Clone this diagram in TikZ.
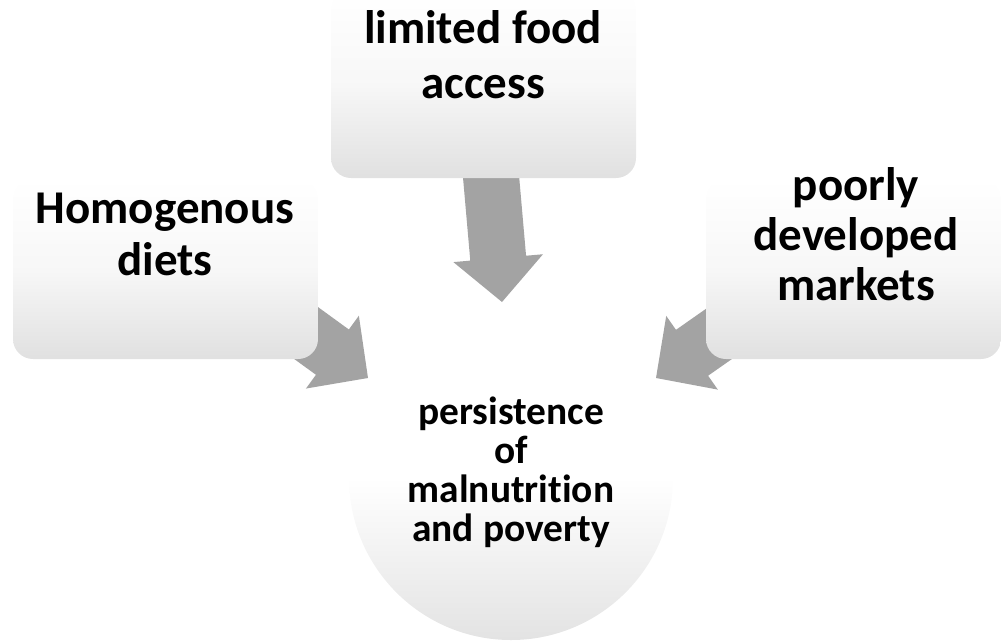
\documentclass[tikz,border=0pt]{standalone}
\usepackage{fontspec}
\setmainfont{Carlito}[Ligatures=NoCommon]
\usetikzlibrary{math}

\tikzset{
	boxshade/.style={rectangle, rounded corners=10pt, inner sep=0pt,
		top color=white, bottom color=black!12, middle color=black!3},
	arrowfill/.style={fill=black!36},
	bigtext/.style={align=center, inner sep=0pt,
		font=\fontsize{23.5}{26}\selectfont\bfseries},
}

\begin{document}
\begin{tikzpicture}[x=0.5pt,y=-0.5pt]
\useasboundingbox (0,0) rectangle (1001,643);
\tikzmath{
	\shaftw = 28;\headw = 45;\headl = 44;\arrlen = 140;
	{\coordinate (tipt) at (502,302);};
	{\coordinate (tipl) at (368,378);};
	{\coordinate (tipr) at (656,378);};
};
% centre circle
\node[circle, minimum size=162pt, inner sep=0pt,
	top color=white, bottom color=black!11, middle color=white] (goal) at (511,478) {};
% arrows
\fill[arrowfill, shift={(tipt)}, rotate=-85] plot[] coordinates {(0,0) (-\headl,\headw) (-\headl,\shaftw) (-\arrlen,\shaftw) (-\arrlen,-\shaftw) (-\headl,-\shaftw) (-\headl,-\headw)} -- cycle;
\fill[arrowfill, shift={(tipl)}, rotate=-36] plot[] coordinates {(0,0) (-\headl,\headw) (-\headl,\shaftw) (-\arrlen,\shaftw) (-\arrlen,-\shaftw) (-\headl,-\shaftw) (-\headl,-\headw)} -- cycle;
\fill[arrowfill, shift={(tipr)}, rotate=-145] plot[] coordinates {(0,0) (-\headl,\headw) (-\headl,\shaftw) (-\arrlen,\shaftw) (-\arrlen,-\shaftw) (-\headl,-\shaftw) (-\headl,-\headw)} -- cycle;
% boxes
\node[boxshade, minimum width=152.5pt, minimum height=94pt] (foodbox) at (483.5,84) {};
\node[boxshade, minimum width=152.5pt, minimum height=90pt] (dietbox) at (165.5,269) {};
\node[boxshade, minimum width=147.5pt, minimum height=90pt] (mktbox) at (853.5,269) {};
% texts
\node[bigtext, font=\fontsize{23.5}{27.5}\selectfont\bfseries] (foodtext) at (483,54.5) {limited food\\access};
\node[bigtext] (diettext) at (165,234) {Homogenous\\diets};
\node[bigtext, font=\fontsize{23.5}{25}\selectfont\bfseries] (mkttext) at (856,234) {poorly\\developed\\markets};
\node[bigtext, font=\fontsize{19.7}{19.5}\selectfont\bfseries] (goaltext) at (511,472.5) {persistence\\of\\malnutrition\\and poverty};
\end{tikzpicture}
\end{document}
